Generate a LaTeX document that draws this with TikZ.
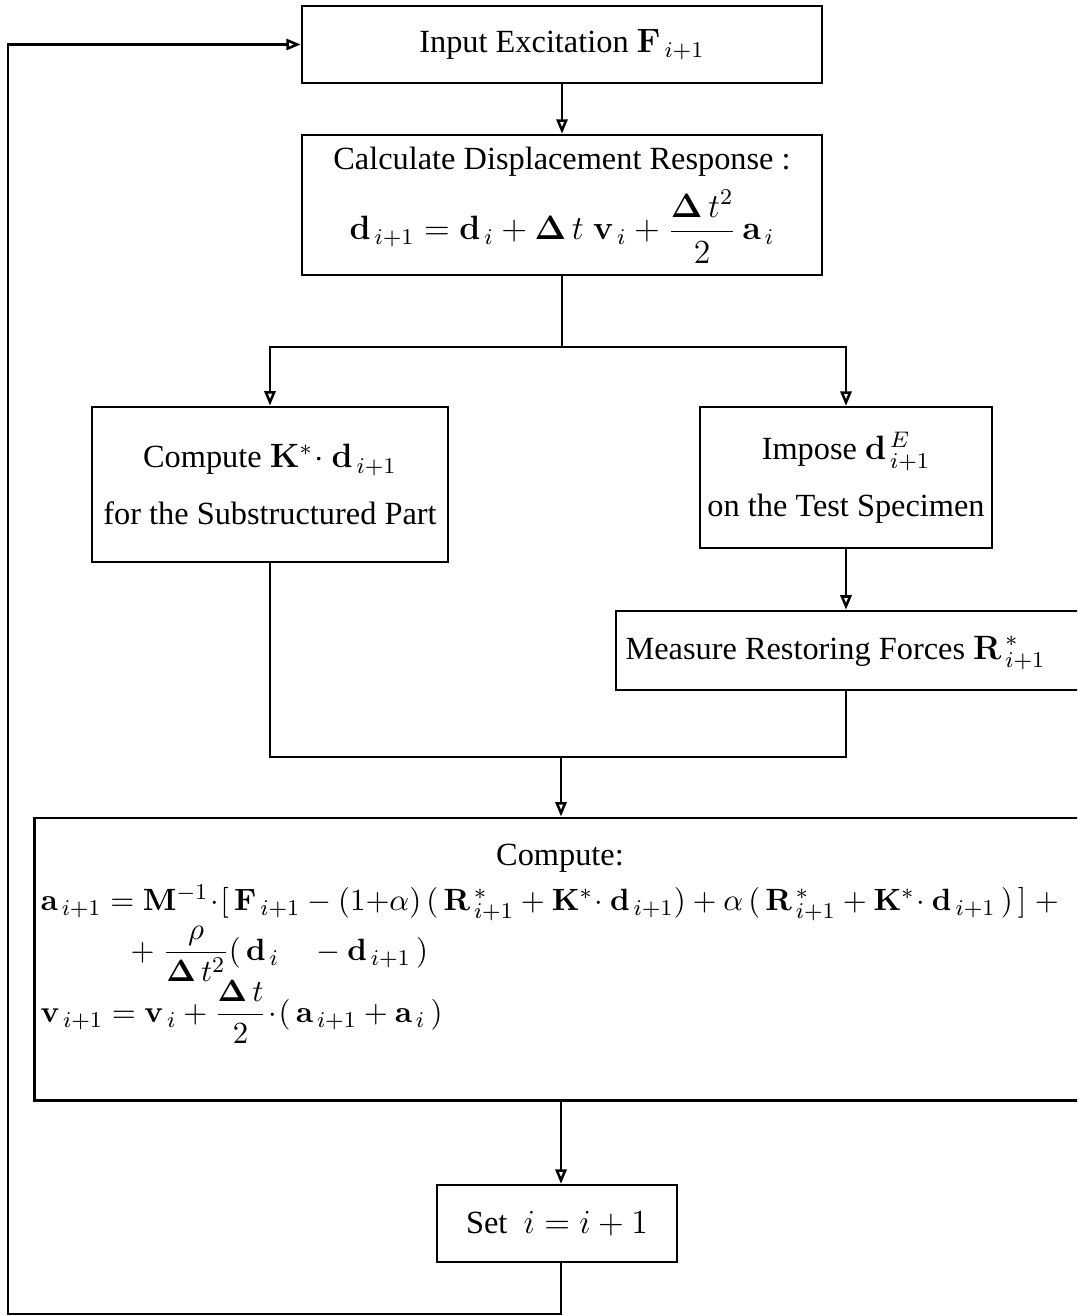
\documentclass[tikz,border=0pt]{standalone}
\usepackage{amsmath,amssymb}
\usepackage[no-math]{fontspec}
\setmainfont{Liberation Serif}
\usepackage{tikz}
\usetikzlibrary{arrows.meta, positioning}

\begin{document}
\begin{tikzpicture}[
    x=0.0125cm, y=-0.0125cm,
    box/.style={draw, line width=0.9pt, align=center, inner sep=0pt, font=\fontsize{11.5}{14}\selectfont},
    txt/.style={inner sep=0pt, font=\fontsize{11.5}{14}\selectfont},
    eqn/.style={inner sep=0pt, anchor=west, font=\fontsize{10.8}{13}\selectfont},
    arr/.style={-{Triangle[open, length=1.8mm, width=1.4mm]}, line width=0.9pt},
    conn/.style={line width=0.9pt},
  ]
    \clip (0,0) rectangle (1077,1316);
    % boxes
    \node[box, minimum width=6.5cm, minimum height=0.96cm] (input) at (562,44.5) {Input Excitation $\mathbf{F}_{\,i+1}$};
    \node[box, minimum width=6.5cm, minimum height=1.75cm] (disp) at (562,205) {Calculate Displacement Response :\\[4pt]
      $\mathbf{d}_{\,i+1} = \mathbf{d}_{\,i} + \mathbf{\Delta}\, t\; \mathbf{v}_{\,i} + \dfrac{\mathbf{\Delta}\, t^{2}}{2}\,\mathbf{a}_{\,i}$};
    \node[box, minimum width=4.45cm, minimum height=1.94cm] (subs) at (270,484.5) {Compute $\mathbf{K}^{*}\!\cdot\mathbf{d}_{\,i+1}$\\[6pt] for the Substructured Part};
    \node[box, minimum width=3.65cm, minimum height=1.76cm] (impose) at (846,477.5) {Impose $\mathbf{d}^{\,E}_{\,i+1}$\\[6pt] on the Test Specimen};
    \node[box, minimum width=5.86cm, minimum height=0.99cm] (measbox) at (850.5,650.5) {};
    \node[txt, anchor=west] (meas) at (625,653) {Measure Restoring Forces $\mathbf{R}^{\,*}_{\,i+1}$};
    \node[box, minimum width=13.13cm, minimum height=3.53cm] (updbox) at (560,959) {};
    \node[txt] (updtitle) at (560,858) {Compute:};
    \node[eqn] (upda) at (40,903) {$\mathbf{a}_{\,i+1} = \mathbf{M}^{-1}\!\cdot\![\,\mathbf{F}_{\,i+1} - (1{+}\alpha)\,(\,\mathbf{R}^{\,*}_{\,i+1} + \mathbf{K}^{*}\!\cdot\mathbf{d}_{\,i+1}) + \alpha\,(\,\mathbf{R}^{\,*}_{\,i+1} + \mathbf{K}^{*}\!\cdot\mathbf{d}_{\,i+1}\,)\,]\; +$};
    \node[eqn] (updb) at (130,954) {$+\;\dfrac{\rho}{\mathbf{\Delta}\, t^{2}}(\,\mathbf{d}_{\,i}\quad - \mathbf{d}_{\,i+1}\,)$};
    \node[eqn] (updc) at (40,1012) {$\mathbf{v}_{\,i+1} = \mathbf{v}_{\,i} + \dfrac{\mathbf{\Delta}\, t}{2}\!\cdot\!(\,\mathbf{a}_{\,i+1} + \mathbf{a}_{\,i}\,)$};
    \node[box, minimum width=3cm, minimum height=0.96cm] (incr) at (557,1223.5) {Set~ $i = i + 1$};

    % junction points
    \coordinate (split) at (562,347);
    \coordinate (join) at (561,757);
    \coordinate (loopbot) at (8,1314);

    \draw[arr] (input.south -| split) -- (disp.north -| split);
    \draw[conn] (disp.south -| split) -- (split);
    \draw[arr] (split) -| (subs.north);
    \draw[arr] (split) -| (impose.north);
    \draw[arr] (impose.south) -- (impose.south |- measbox.north);
    \draw[conn] (subs.south) |- (join) -| (measbox.south -| impose.south);
    \draw[arr] (join) -- (updbox.north -| join);
    \draw[arr] (updbox.south -| join) -- (incr.north -| join);
    \draw[arr] (incr.south -| join) |- (loopbot) |- (input.west);
  \end{tikzpicture}
\end{document}
